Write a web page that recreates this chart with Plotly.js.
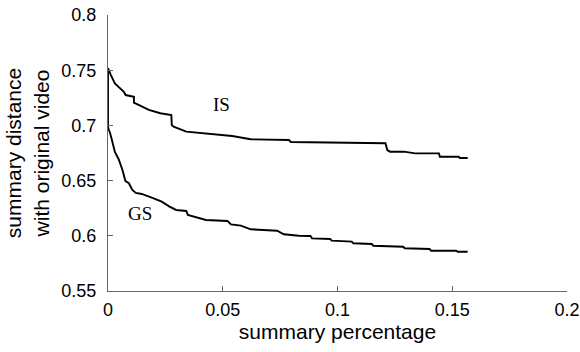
<!DOCTYPE html>
<html>
<head>
<meta charset="utf-8">
<script src="https://cdn.plot.ly/plotly-3.0.1.min.js"></script>
<style>html,body{margin:0;padding:0;background:#fff;}#chart{width:580px;height:352px;}</style>
</head>
<body>
<div id="chart"></div>
<script>
// IS curve
const isX = [0, 0.0012, 0.0030, 0.0069, 0.0077, 0.0113, 0.0113, 0.0134, 0.0178, 0.0228, 0.0276, 0.0278, 0.0286, 0.0341, 0.0427, 0.0541, 0.0622, 0.0788, 0.0797, 0.1026, 0.1209, 0.1217, 0.1229, 0.1290, 0.1338, 0.1442, 0.1446, 0.1528, 0.1533, 0.1567];
const isY = [0.752, 0.7457, 0.7381, 0.7305, 0.7275, 0.7260, 0.7206, 0.7185, 0.7140, 0.7110, 0.7094, 0.7004, 0.6988, 0.6943, 0.6928, 0.6904, 0.6874, 0.6868, 0.6850, 0.6845, 0.6838, 0.6777, 0.6762, 0.6762, 0.6747, 0.6747, 0.6716, 0.6716, 0.6705, 0.6705];
// GS curve
const gsX = [0, 0, 0.0004, 0.0009, 0.0017, 0.0030, 0.0046, 0.0063, 0.0076, 0.0091, 0.0106, 0.0121, 0.0147, 0.0182, 0.0199, 0.0234, 0.0268, 0.0297, 0.0341, 0.0348, 0.0391, 0.0427, 0.0521, 0.0536, 0.0579, 0.0622, 0.0737, 0.0766, 0.0831, 0.0882, 0.0889, 0.0968, 0.0975, 0.1062, 0.1069, 0.1149, 0.1156, 0.1286, 0.1293, 0.1401, 0.1408, 0.1517, 0.1524, 0.1567];
const gsY = [0.7502, 0.6986, 0.6958, 0.6931, 0.6868, 0.6759, 0.6696, 0.6596, 0.6496, 0.6476, 0.6415, 0.6388, 0.6379, 0.6354, 0.6340, 0.6309, 0.6264, 0.6234, 0.6225, 0.6189, 0.6164, 0.6143, 0.6134, 0.6104, 0.6092, 0.6059, 0.6046, 0.6014, 0.6001, 0.5998, 0.5977, 0.5971, 0.5956, 0.5947, 0.5932, 0.5926, 0.5910, 0.5901, 0.5887, 0.5880, 0.5865, 0.5865, 0.5856, 0.5856];
const xTicks = [0, 0.05, 0.1, 0.15, 0.2];
const xTickText = ['0', '0.05', '0.1', '0.15', '0.2'];
const yTicks = [0.55, 0.6, 0.65, 0.7, 0.75, 0.8];
const yTickText = ['0.55', '0.6', '0.65', '0.7', '0.75', '0.8'];
const labels = [{text: 'IS', x: 0.0494, y: 0.7185}, {text: 'GS', x: 0.0140, y: 0.6200}];

const line = {color: '#000', width: 1.9};
const traces = [
  {x: isX, y: isY, mode: 'lines', line: line, name: 'IS', hoverinfo: 'skip'},
  {x: gsX, y: gsY, mode: 'lines', line: line, name: 'GS', hoverinfo: 'skip'}
];
const sans = 'Liberation Sans, Arial, sans-serif';
const tickFont = {family: sans, size: 18, color: '#000'};
const layout = {
  width: 580, height: 352,
  margin: {l: 108, r: 13, t: 15, b: 61, pad: 0},
  paper_bgcolor: '#fff', plot_bgcolor: '#fff',
  showlegend: false,
  xaxis: {
    range: [0, 0.2], tickvals: xTicks, ticktext: xTickText,
    showgrid: false, zeroline: false, showline: true, linecolor: '#666', linewidth: 1,
    ticks: 'inside', ticklen: 5, tickcolor: '#666', tickfont: tickFont,
    ticklabeloverflow: 'allow', ticklabelstandoff: 2,
    title: {text: 'summary percentage', font: {family: sans, size: 21, color: '#000'}, standoff: 4}
  },
  yaxis: {
    range: [0.55, 0.8], tickvals: yTicks, ticktext: yTickText,
    showgrid: false, zeroline: false, showline: true, linecolor: '#666', linewidth: 1,
    ticks: 'inside', ticklen: 5, tickcolor: '#666', tickfont: tickFont,
    ticklabeloverflow: 'allow', ticklabelstandoff: 7,
    title: {text: 'summary distance<br>with original video', font: {family: sans, size: 21, color: '#000'}, standoff: 6}
  },
  annotations: labels.map(l => ({
    text: l.text, x: l.x, y: l.y, xref: 'x', yref: 'y', showarrow: false,
    font: {family: 'Liberation Serif, Times New Roman, serif', size: 19, color: '#000'}
  }))
};
Plotly.newPlot('chart', traces, layout, {staticPlot: true, displayModeBar: false});
</script>
</body>
</html>
